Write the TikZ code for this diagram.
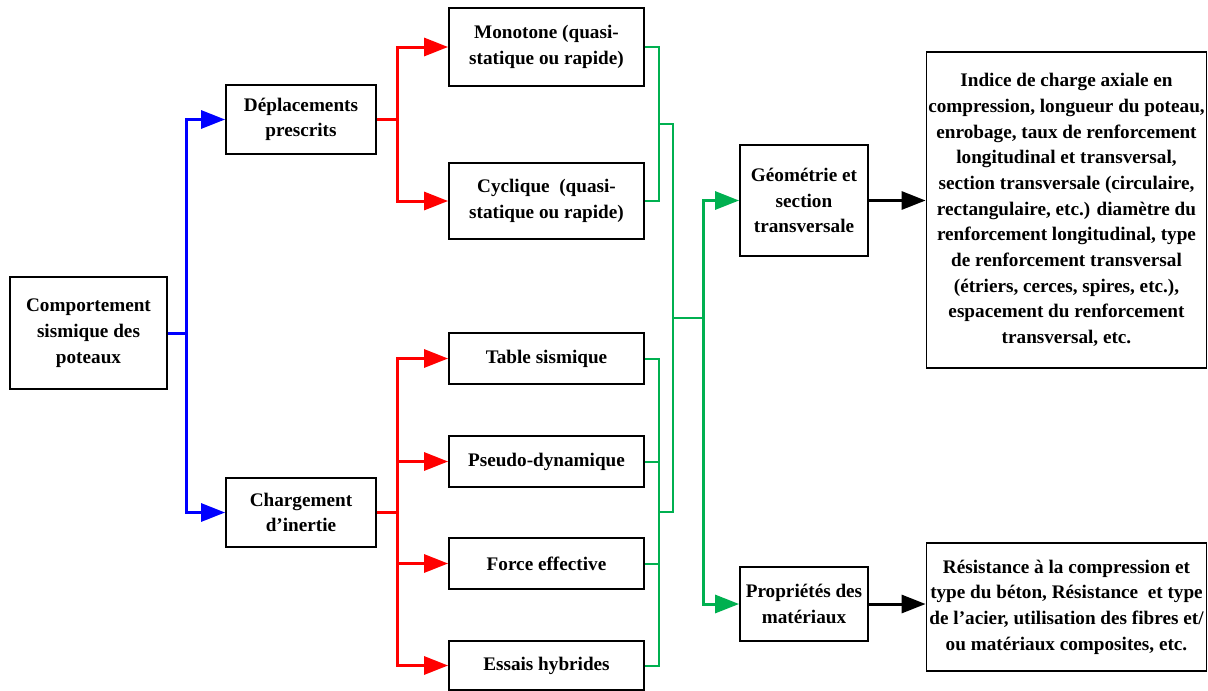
\documentclass[tikz,border=0pt]{standalone}
\usepackage{fontspec}
\setmainfont{Liberation Serif}
\usetikzlibrary{arrows.meta}
\definecolor{linkblue}{RGB}{0,0,255}
\definecolor{linkred}{RGB}{255,0,0}
\definecolor{linkgreen}{RGB}{0,176,80}
\tikzset{
	tip/.style={-{Triangle[length=24pt,width=18pt]}},
}
\begin{document}
\begin{tikzpicture}[x=1pt,y=-1pt]
	\useasboundingbox (0,0) rectangle (1208,691);
	\begin{scope}[every node/.style={draw,line width=1.8pt,align=center,inner sep=0pt,font=\bfseries\fontsize{19.2}{25.7}\selectfont}]
		\node[minimum width=157pt,minimum height=112pt] (comp) at (88.5,333) {Comportement\\sismique des\\poteaux};
		\node[minimum width=150pt,minimum height=69pt] (depl) at (301,119.5) {Déplacements\\prescrits};
		\node[minimum width=150pt,minimum height=69pt] (charg) at (301,512.5) {Chargement\\d’inertie};
		\node[minimum width=195pt,minimum height=78pt] (mono) at (546.5,47) {Monotone (quasi-\\statique ou rapide)};
		\node[minimum width=195pt,minimum height=76pt] (cycl) at (546.5,201) {Cyclique~ (quasi-\\statique ou rapide)};
		\node[minimum width=195pt,minimum height=51pt] (table) at (546.5,358.5) {Table sismique};
		\node[minimum width=195pt,minimum height=51pt] (pseudo) at (546.5,461.5) {Pseudo-dynamique};
		\node[minimum width=195pt,minimum height=51pt] (force) at (546.5,563.5) {Force effective};
		\node[minimum width=195pt,minimum height=49pt] (essais) at (546.5,665.5) {Essais hybrides};
		\node[minimum width=128pt,minimum height=111pt] (geom) at (804,200.5) {Géométrie et\\section\\transversale};
		\node[minimum width=128pt,minimum height=74pt] (prop) at (804,604) {Propriétés des\\matériaux};
		\node[minimum width=280pt,minimum height=316pt] (indice) at (1066.5,210) {Indice de charge axiale en\\compression, longueur du poteau,\\enrobage, taux de renforcement\\longitudinal et transversal,\\section transversale (circulaire,\\rectangulaire, etc.) diamètre du\\renforcement longitudinal, type\\de renforcement transversal\\(étriers, cerces, spires, etc.),\\espacement du renforcement\\transversal, etc.};
		\node[minimum width=280pt,minimum height=128pt] (resist) at (1066.5,607) {Résistance à la compression et\\type du béton, Résistance~ et type\\de l’acier, utilisation des fibres et/\\ou matériaux composites, etc.};
	\end{scope}
	
	% blue
	\begin{scope}[line width=3pt,linkblue]
		\coordinate (bj) at (186,333);
		\draw[tip] (comp.east) -- (bj) |- (depl.west);
		\draw[tip] (comp.east) -- (bj) |- (charg.west);
	\end{scope}
	
	% red
	\begin{scope}[line width=3pt,linkred]
		\path (depl.east) ++(21,0) coordinate (rd);
		\path (charg.east) ++(21,0) coordinate (rc);
		\draw[tip] (depl.east) -- (rd) |- (mono.west);
		\draw[tip] (depl.east) -- (rd) |- (cycl.west);
		\draw[tip] (charg.east) -- (rc) |- (table.west);
		\draw[tip] (charg.east) -- (rc) |- (pseudo.west);
		\draw[tip] (charg.east) -- (rc) |- (force.west);
		\draw[tip] (charg.east) -- (rc) |- (essais.west);
	\end{scope}
	
	% green
	\begin{scope}[line width=2pt,linkgreen]
		\coordinate (gu) at (659,124);
		\coordinate (gl) at (659,512);
		\coordinate (gur) at (673,124);
		\coordinate (glr) at (673,512);
		\coordinate (gm) at (673,318);
		\coordinate (gt) at (703,318);
		\draw (mono.east) -| (gu) |- (cycl.east);
		\draw (table.east) -| (gl) |- (essais.east);
		\draw (pseudo.east) -| (gl);
		\draw (force.east) -| (gl);
		\draw (gu) -- (gur) -- (glr) -- (gl);
		\draw (gm) -- (gt);
		\draw[tip,line width=3pt] (gt) |- (geom.west);
		\draw[tip,line width=3pt] (gt) |- (prop.west);
	\end{scope}
	
	\begin{scope}[every edge/.style={draw=black,line width=3pt}]
		\path [tip] (geom.east) edge (geom.east -| indice.west);
		\path [tip] (prop.east) edge (prop.east -| resist.west);
	\end{scope}
\end{tikzpicture}
\end{document}
